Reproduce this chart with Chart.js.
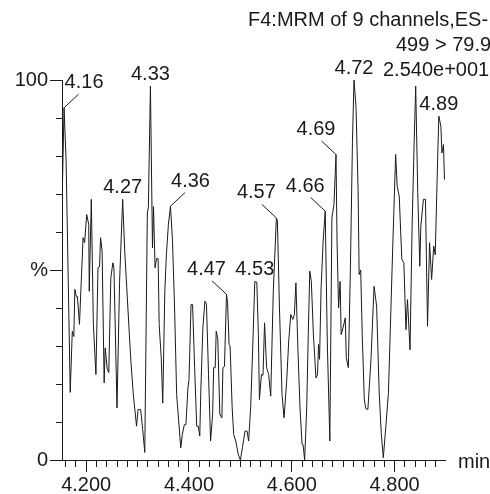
<!DOCTYPE html>
<html>
<head>
<meta charset="utf-8">
<script src="https://cdn.jsdelivr.net/npm/chart.js@4/dist/chart.umd.min.js"></script>
<style>
  body { margin: 0; background: #fff; }
</style>
</head>
<body>
<canvas id="canvas" width="490" height="494"></canvas>
<script>
// retention time (min) and relative intensity (%)
const times = [
  4.154,4.157,4.161,4.169,4.173,4.176,4.178,4.181,4.183,4.187,
  4.194,4.197,4.201,4.205,4.206,4.210,4.214,4.219,4.223,4.226,
  4.228,4.231,4.235,4.237,4.241,4.244,4.248,4.252,4.254,4.260,
  4.265,4.271,4.275,4.279,4.284,4.287,4.292,4.294,4.298,4.301,
  4.306,4.310,4.314,4.319,4.321,4.325,4.329,4.331,4.334,4.337,
  4.340,4.342,4.346,4.349,4.353,4.356,4.360,4.364,4.368,4.372,
  4.376,4.380,4.384,4.387,4.391,4.394,4.398,4.400,4.404,4.407,
  4.411,4.415,4.418,4.421,4.423,4.427,4.431,4.434,4.438,4.442,
  4.446,4.448,4.451,4.453,4.456,4.460,4.464,4.466,4.469,4.473,
  4.475,4.478,4.480,4.484,4.487,4.491,4.496,4.500,4.504,4.509,
  4.513,4.516,4.520,4.524,4.528,4.532,4.535,4.537,4.541,4.544,
  4.547,4.551,4.555,4.559,4.564,4.570,4.572,4.576,4.581,4.585,
  4.590,4.594,4.598,4.602,4.605,4.608,4.612,4.616,4.620,4.622,
  4.625,4.629,4.632,4.635,4.638,4.642,4.647,4.650,4.652,4.654,
  4.657,4.661,4.665,4.669,4.674,4.678,4.682,4.686,4.688,4.691,
  4.694,4.696,4.700,4.704,4.706,4.710,4.714,4.718,4.721,4.725,
  4.729,4.731,4.734,4.737,4.741,4.744,4.748,4.754,4.760,4.765,
  4.770,4.774,4.778,4.783,4.788,4.796,4.802,4.805,4.809,4.814,
  4.818,4.822,4.825,4.830,4.834,4.838,4.841,4.845,4.849,4.851,
  4.856,4.860,4.864,4.868,4.872,4.876,4.879,4.884,4.886,4.890,
  4.892,4.895,4.897
];
const intensity = [
  73,92.7,78.6,17.8,33.9,32.5,44.9,43,43,35.7,
  58.5,57.2,64.6,62,44.4,68.6,35.7,22.5,50.6,50.8,
  58.5,55,20.3,29.5,24,23,48,51.9,50.5,13.7,
  47,68.6,55,45.3,33,26,16.8,14.2,8.9,13.3,
  13.3,8,2,65,66.5,98.4,55.8,66.7,50.6,53,
  53,35.7,26.9,15,44.4,54,62,66.8,57.6,40,
  17.2,10.2,3.2,6.7,9.3,9.3,19,21,40.9,40.9,
  24.3,8.9,8.9,6.3,18.1,34.8,41.8,41,22.5,5,
  12,24.3,24.3,33.9,32,12,11.1,24.3,24.6,43.6,
  41.5,30.4,30,13.7,6.7,5,1.4,0,3.3,7.6,
  7.6,5,13.8,29.6,47,46.8,33,15.9,22.5,22.3,
  36.1,24.3,22.5,16.8,44.4,63.7,63,40,17.2,11.1,
  20.7,31.3,38.3,37,38.3,46.6,28.6,13.7,4.1,4,
  0,13.7,33,49.7,47,33,21.6,22.5,30.4,26.5,
  45.3,57.6,65.5,31.3,5,63.7,67.2,80.4,57.6,40,
  47,33,35,37.4,26.9,24.3,50.6,83.9,100,92.7,
  70.7,48.8,50,33,16,13.5,13.3,26.4,45.7,40.5,
  17.7,7,0.6,8.9,17.7,54.5,80.4,72,69.4,52.8,
  51.9,34.3,42.2,29,61.5,83.5,98.4,70.3,51,61.5,
  68.6,68.6,35.2,57.2,47.5,56.3,54,80.8,90.5,87.8,
  80.8,83,73.8
];

// labelled peaks
const peakTimes = [4.157, 4.271, 4.325, 4.364, 4.473, 4.528, 4.570, 4.665, 4.686, 4.721, 4.886];
const peakLabels = ['4.16', '4.27', '4.33', '4.36', '4.47', '4.53', '4.57', '4.66', '4.69', '4.72', '4.89'];

// axis ticks
const xMin = 4.153, xMax = 4.898, xMinorStep = 0.02;
const xMajorTicks = [4.2, 4.4, 4.6, 4.8];
const yLabelValues = [0, 50, 100];
const yLabelTexts = ['0', '%', '100'];

const headerLines = ['F4:MRM of 9 channels,ES-', '499 > 79.9', '2.540e+001'];

const FONT = '"Liberation Sans", Arial, sans-serif';
const INK = '#1a1a1a';

function isMajor(v) {
  return xMajorTicks.some(m => Math.abs(m - v) < 1e-6);
}

// peak labels, header text and axis title
const annotate = {
  id: 'annotate',
  afterDraw(chart, args, opts) {
    const ctx = chart.ctx;
    const xs = chart.scales.x, ys = chart.scales.y;
    ctx.save();
    ctx.fillStyle = INK;
    ctx.strokeStyle = INK;
    ctx.lineWidth = 1;
    ctx.font = '20px ' + FONT;
    ctx.textAlign = 'center';
    ctx.textBaseline = 'middle';

    peakTimes.forEach((t, k) => {
      // nearest point of the trace
      let best = 0;
      times.forEach((tt, i) => { if (Math.abs(tt - t) < Math.abs(times[best] - t)) best = i; });
      const px = xs.getPixelForValue(times[best]);
      const py = ys.getPixelForValue(intensity[best]);
      const side = opts.leader[k];
      if (side === 0) {
        ctx.fillText(peakLabels[k], px, py - 12);
      } else {
        ctx.beginPath();
        ctx.moveTo(px, py);
        ctx.lineTo(px + side * 14.5, py - 13.5);
        ctx.stroke();
        ctx.fillText(peakLabels[k], px + side * 20, py - 25);
      }
    });

    // header, runs off the right edge like the original
    ctx.textAlign = 'left';
    ctx.fillText(headerLines[0], 248, 20);
    ctx.fillText(headerLines[1], 396, 45);
    ctx.fillText(headerLines[2], 383, 70);

    // axis title
    ctx.fillText('min', xs.right + 13, xs.top + 2);
    ctx.restore();
  }
};

new Chart('canvas', {
  type: 'line',
  data: {
    datasets: [{
      data: times.map((t, i) => ({ x: t, y: intensity[i] })),
      borderColor: INK,
      borderWidth: 1,
      pointRadius: 0,
      tension: 0,
      fill: false
    }]
  },
  options: {
    responsive: false,
    animation: false,
    events: [],
    layout: { padding: { top: 80, right: 45, left: 0, bottom: 0 } },
    plugins: {
      legend: { display: false },
      tooltip: { enabled: false },
      annotate: { leader: [1, 0, 0, 1, -1, 0, -1, -1, -1, 0, 0] }
    },
    scales: {
      x: {
        type: 'linear',
        min: xMin,
        max: xMax,
        afterFit: s => { s.height = 34; },
        afterBuildTicks: s => {
          const ticks = [];
          for (let i = 0; i <= 36; i++) {
            ticks.push({ value: Math.round((4.16 + i * xMinorStep) * 1000) / 1000 });
          }
          s.ticks = ticks;
        },
        border: { display: true, color: INK, width: 1 },
        grid: {
          drawOnChartArea: false,
          drawTicks: true,
          tickLength: 12,
          tickColor: INK,
          tickWidth: 1,
          tickBorderDash: c => isMajor(c.tick.value) ? [] : [6, 100]
        },
        ticks: {
          autoSkip: false,
          maxRotation: 0,
          padding: 1,
          color: INK,
          font: { family: FONT, size: 20 },
          callback: v => isMajor(v) ? v.toFixed(3) : ''
        }
      },
      y: {
        min: 0,
        max: 100,
        afterFit: s => { s.width = 62; },
        border: { display: true, color: INK, width: 1 },
        grid: {
          drawOnChartArea: false,
          drawTicks: true,
          tickLength: 12,
          tickColor: INK,
          tickWidth: 1,
          tickBorderDash: c => yLabelValues.includes(c.tick.value) ? [] : [0, 6, 6, 100]
        },
        ticks: {
          stepSize: 10,
          padding: 2,
          color: INK,
          font: { family: FONT, size: 20 },
          callback: v => {
            const k = yLabelValues.indexOf(v);
            return k >= 0 ? yLabelTexts[k] : '';
          }
        }
      }
    }
  },
  plugins: [annotate]
});
</script>
</body>
</html>
